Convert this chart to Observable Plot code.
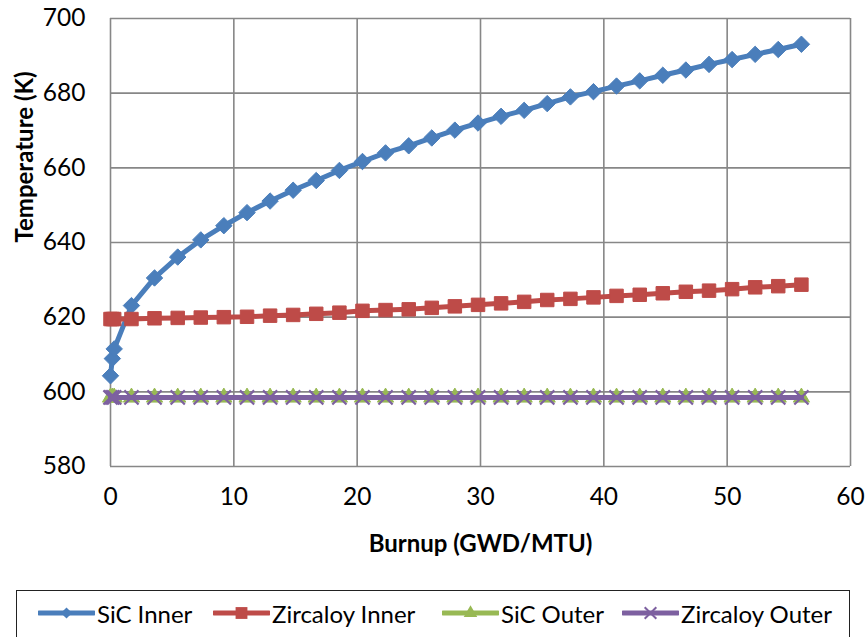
<!DOCTYPE html>
<html>
<head>
<meta charset="utf-8">
<script src="https://cdn.jsdelivr.net/npm/d3@7"></script>
<script src="https://cdn.jsdelivr.net/npm/@observablehq/plot@0.6"></script>
<style>
  html, body { margin: 0; padding: 0; background: #fff; }
  body { width: 868px; height: 637px; position: relative; overflow: hidden; font-family: Lato, "Liberation Sans", sans-serif; }
  #chart { position: absolute; left: 0; top: 0; }
  #legend { position: absolute; left: 16px; top: 590px; width: 834px; height: 70px; border: 1.5px solid #222; box-sizing: border-box; }
  .item { position: absolute; top: 7px; display: flex; align-items: center; font-size: 24px; color: #000; white-space: nowrap; }
  .item svg { display: block; margin-right: 2px; }
</style>
</head>
<body>
<div id="chart"></div>
<div id="legend"></div>
<script>
// Burnup (GWD/MTU)
const burnup = [0, 0.15, 0.3, 1.7, 3.57, 5.45, 7.32, 9.19, 11.07, 12.94, 14.81, 16.68, 18.56,
  20.43, 22.30, 24.18, 26.05, 27.92, 29.80, 31.67, 33.54, 35.41, 37.29, 39.16, 41.03,
  42.91, 44.78, 46.65, 48.53, 50.40, 52.27, 54.14, 56.02];
// Temperatures (K)
const sicInner = [604.3, 608.9, 611.5, 623.1, 630.5, 636.1, 640.7, 644.5, 648.0, 651.1, 654.0,
  656.6, 659.3, 661.7, 664.0, 665.9, 668.0, 670.1, 672.0, 673.8, 675.4, 677.2, 679.0,
  680.4, 681.9, 683.3, 684.8, 686.2, 687.7, 689.0, 690.4, 691.7, 693.1];
const zircInner = [619.5, 619.5, 619.5, 619.5, 619.7, 619.8, 619.9, 620.0, 620.1, 620.4, 620.6,
  620.9, 621.2, 621.7, 621.9, 622.1, 622.5, 622.9, 623.3, 623.7, 624.1, 624.6, 624.9,
  625.3, 625.7, 626.0, 626.4, 626.8, 627.1, 627.5, 628.0, 628.3, 628.7];
const sicOuter = [598.5, 598.5, 598.5, 598.5, 598.5, 598.5, 598.5, 598.5, 598.5, 598.5, 598.5,
  598.5, 598.5, 598.5, 598.5, 598.5, 598.5, 598.5, 598.5, 598.5, 598.5, 598.5, 598.5,
  598.5, 598.5, 598.5, 598.5, 598.5, 598.5, 598.5, 598.5, 598.5, 598.5];
const zircOuter = [598.5, 598.5, 598.5, 598.5, 598.5, 598.5, 598.5, 598.5, 598.5, 598.5, 598.5,
  598.5, 598.5, 598.5, 598.5, 598.5, 598.5, 598.5, 598.5, 598.5, 598.5, 598.5, 598.5,
  598.5, 598.5, 598.5, 598.5, 598.5, 598.5, 598.5, 598.5, 598.5, 598.5];
const seriesNames = ["SiC Inner", "Zircaloy Inner", "SiC Outer", "Zircaloy Outer"];
const xTicks = [0, 10, 20, 30, 40, 50, 60];
const yTicks = [580, 600, 620, 640, 660, 680, 700];
const xLabel = "Burnup (GWD/MTU)";
const yLabel = "Temperature (K)";

const colors = ["#4A7EBB", "#BE4B48", "#98B954", "#7D60A0"];
const seriesVals = [sicInner, zircInner, sicOuter, zircOuter];
const tables = seriesVals.map((vals, s) => burnup.map((b, i) => ({x: b, y: vals[i], s: seriesNames[s]})));

const gridColor = "#878787";
const font = "Lato, 'Liberation Sans', sans-serif";

const plot = Plot.plot({
  width: 868,
  height: 585,
  marginLeft: 110,
  marginRight: 18,
  marginTop: 18,
  marginBottom: 119,
  style: {fontFamily: font, fontSize: "24px", color: "#000", background: "#fff"},
  x: {domain: [0, 60]},
  y: {domain: [580, 700]},
  marks: [
    Plot.gridX(xTicks, {stroke: gridColor, strokeOpacity: 1, strokeWidth: 1.6}),
    Plot.gridY(yTicks, {stroke: gridColor, strokeOpacity: 1, strokeWidth: 1.6}),
    Plot.axisX(xTicks, {tickSize: 0, tickPadding: 21, fontSize: 24.5, label: null, tickFormat: d3.format("d")}),
    Plot.axisY(yTicks, {tickSize: 0, tickPadding: 25, fontSize: 24.5, label: null, tickFormat: d3.format("d")}),
    // SiC Inner
    Plot.line(tables[0], {x: "x", y: "y", stroke: colors[0], strokeWidth: 5}),
    Plot.dot(tables[0], {x: "x", y: "y", symbol: "diamond2", r: 7.4, fill: colors[0], stroke: colors[0], strokeWidth: 1}),
    // Zircaloy Inner
    Plot.line(tables[1], {x: "x", y: "y", stroke: colors[1], strokeWidth: 5}),
    Plot.dot(tables[1], {x: "x", y: "y", symbol: "square", r: 7.6, fill: colors[1], stroke: colors[1], strokeWidth: 1}),
    // SiC Outer
    Plot.line(tables[2], {x: "x", y: "y", stroke: colors[2], strokeWidth: 5}),
    Plot.dot(tables[2], {x: "x", y: "y", symbol: "triangle", r: 6, fill: colors[2], stroke: colors[2], strokeWidth: 1}),
    // Zircaloy Outer
    Plot.line(tables[3], {x: "x", y: "y", stroke: colors[3], strokeWidth: 5}),
    Plot.dot(tables[3], {x: "x", y: "y", symbol: "times", r: 6.5, stroke: colors[3], fill: "none", strokeWidth: 2.2}),
    // axis titles
    Plot.text([xLabel], {frameAnchor: "bottom", dy: 85, fontSize: 24, fontWeight: "bold", fill: "#000"}),
    Plot.text([yLabel], {frameAnchor: "left", dx: -85, dy: 0, rotate: -90, fontSize: 24, fontWeight: "bold", fill: "#000"})
  ]
});
document.getElementById("chart").appendChild(plot);

// Legend
const legendLefts = [21, 196, 425, 605];
const legend = document.getElementById("legend");
seriesNames.forEach((name, i) => {
  const item = document.createElement("div");
  item.className = "item";
  item.style.left = legendLefts[i] + "px";
  const sw = d3.create("svg").attr("width", 57).attr("height", 30);
  sw.append("line").attr("x1", 1).attr("x2", 56).attr("y1", 15).attr("y2", 15)
    .attr("stroke", colors[i]).attr("stroke-width", 5).attr("stroke-linecap", "round");
  let sym;
  if (i === 0) sym = d3.symbol(d3.symbolDiamond2, 80);
  else if (i === 1) sym = d3.symbol(d3.symbolSquare, 140);
  else if (i === 2) sym = d3.symbol(d3.symbolTriangle, 80);
  else sym = d3.symbol(d3.symbolTimes, 90);
  const p = sw.append("path").attr("d", sym()).attr("transform", "translate(28.5,15)");
  if (i === 3) p.attr("stroke", colors[i]).attr("fill", "none").attr("stroke-width", 2);
  else p.attr("fill", colors[i]);
  item.appendChild(sw.node());
  const t = document.createElement("span");
  t.textContent = name;
  item.appendChild(t);
  legend.appendChild(item);
});
</script>
</body>
</html>
